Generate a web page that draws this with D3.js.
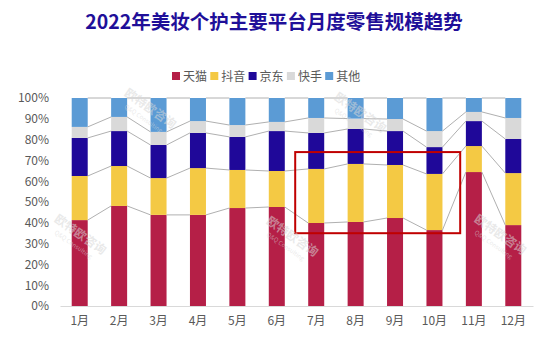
<!DOCTYPE html>
<html>
<head>
<meta charset="utf-8">
<script src="https://cdn.jsdelivr.net/npm/d3@7"></script>
<style>
  body { margin: 0; background: #fff; }
  svg { font-family: "Noto Sans CJK SC", "Noto Sans", sans-serif; }
</style>
</head>
<body>
<svg></svg>
<script>
const months = ['1月','2月','3月','4月','5月','6月','7月','8月','9月','10月','11月','12月'];
const seriesNames = ['天猫','抖音','京东','快手','其他'];
const tmall    = [41.3, 48.1, 43.8, 43.8, 47.1, 47.6, 39.9, 40.4, 42.3, 36.5, 64.4, 38.9];
const douyin   = [21.2, 19.2, 17.7, 22.5, 18.3, 17.3, 26.0, 27.9, 25.5, 27.0, 12.5, 25.0];
const jd       = [18.3, 16.8, 15.9, 16.9, 15.9, 19.2, 17.3, 16.8, 16.3, 12.9, 12.0, 16.4];
const kuaishou = [ 5.3,  6.8,  6.3,  5.7,  5.7,  4.4,  7.2,  5.0,  5.8,  7.7,  4.4, 10.1];
const other    = [13.9,  9.1, 16.3, 11.1, 13.0, 11.5,  9.6,  9.9, 10.1, 15.9,  6.7,  9.6];
const yTicks = [0, 10, 20, 30, 40, 50, 60, 70, 80, 90, 100];
// highlighted area (months and share range)
const boxMonths = ['7月', '10月'];
const boxRange = [35, 74];

const colors = ['#b51f47', '#f4c944', '#1f0899', '#d9d9d9', '#5b9bd5'];
const [width, height] = [547, 350];
const margin = {top: 98, right: 14, bottom: 44, left: 60};

const rows = months.map((m, i) => ({
  month: m,
  '天猫': tmall[i], '抖音': douyin[i], '京东': jd[i], '快手': kuaishou[i], '其他': other[i]
}));
const stacked = d3.stack().keys(seriesNames)(rows);

const svg = d3.select('svg').attr('width', width).attr('height', height);

const x = d3.scaleBand()
  .domain(months)
  .range([margin.left, width - margin.right])
  .paddingInner(0.594)
  .paddingOuter(0.297);
const y = d3.scaleLinear()
  .domain([0, 100])
  .range([height - margin.bottom, margin.top]);
const bw = x.bandwidth();

// title
svg.append('text')
  .attr('x', 274).attr('y', 29)
  .attr('text-anchor', 'middle')
  .attr('font-size', 19.5)
  .attr('font-weight', 'bold')
  .attr('fill', '#1f0f99')
  .text('2022年美妆个护主要平台月度零售规模趋势');

// legend
const legend = svg.append('g').attr('transform', 'translate(172, 76)');
seriesNames.forEach((name, i) => {
  const g = legend.append('g').attr('transform', `translate(${i * 38.3}, 0)`);
  g.append('rect').attr('x', 0).attr('y', -4).attr('width', 8).attr('height', 8).attr('fill', colors[i]);
  g.append('text').attr('x', 11).attr('y', 4.5)
    .attr('font-size', 12).attr('fill', '#595959').text(name);
});

// y axis labels
const yAxis = svg.append('g')
  .attr('transform', `translate(${margin.left - 8}, 0)`)
  .call(d3.axisLeft(y).tickValues(yTicks).tickFormat(d => d + '%').tickSize(0));
yAxis.select('.domain').remove();
yAxis.selectAll('text').attr('font-size', 12).attr('fill', '#595959')
  .attr('font-family', '"Noto Sans CJK SC", sans-serif');

// x axis
const xAxis = svg.append('g')
  .attr('transform', `translate(0, ${y(0)})`)
  .call(d3.axisBottom(x).tickSize(0).tickPadding(10));
xAxis.select('.domain').attr('stroke', '#d9d9d9');
xAxis.selectAll('text').attr('font-size', 12).attr('fill', '#595959')
  .attr('font-family', '"Noto Sans CJK SC", sans-serif');

// bars
stacked.forEach((layer, si) => {
  svg.append('g').selectAll('rect')
    .data(layer)
    .join('rect')
    .attr('x', d => x(d.data.month))
    .attr('y', d => y(d[1]))
    .attr('width', bw)
    .attr('height', d => y(d[0]) - y(d[1]))
    .attr('fill', colors[si]);
});

// series connector lines between bars
stacked.forEach(layer => {
  const segs = d3.pairs(layer);
  svg.append('g').selectAll('line')
    .data(segs)
    .join('line')
    .attr('x1', d => x(d[0].data.month) + bw)
    .attr('y1', d => y(d[0][1]))
    .attr('x2', d => x(d[1].data.month))
    .attr('y2', d => y(d[1][1]))
    .attr('stroke', '#b0b0b0')
    .attr('stroke-width', 1);
});

// highlight box
const step = x.step();
svg.append('rect')
  .attr('x', x(boxMonths[0]) - step * 0.33)
  .attr('y', y(boxRange[1]))
  .attr('width', (x(boxMonths[1]) + bw + step * 0.45) - (x(boxMonths[0]) - step * 0.33))
  .attr('height', y(boxRange[0]) - y(boxRange[1]))
  .attr('fill', 'none')
  .attr('stroke', '#c00000')
  .attr('stroke-width', 2);

// watermarks
const marks = [[148, 112], [78, 238], [290, 240], [358, 116], [498, 238]];
marks.forEach(([mx, my]) => {
  const g = svg.append('g').attr('transform', `translate(${mx}, ${my}) rotate(35)`);
  g.append('text').attr('text-anchor', 'middle').attr('font-size', 12).attr('font-weight', 'bold')
    .attr('fill', 'rgba(215,215,215,0.55)').text('欧特欧咨询');
  g.append('text').attr('text-anchor', 'middle').attr('y', 10).attr('font-size', 6)
    .attr('fill', 'rgba(215,215,215,0.55)').text('Q&Q Consulting');
});
</script>
</body>
</html>
